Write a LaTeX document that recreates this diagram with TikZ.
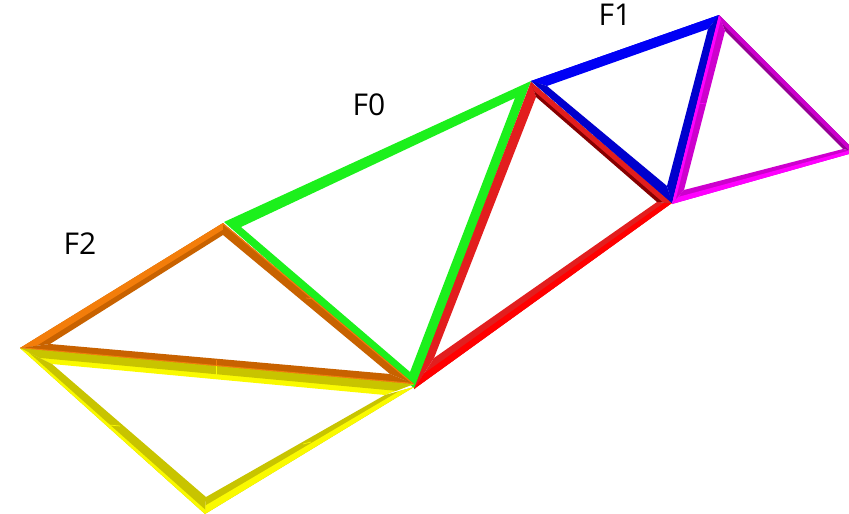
\documentclass[tikz,border=0pt]{standalone}
\usepackage{fontspec}
\setmainfont{Open Sans}
\usetikzlibrary{calc}
\definecolor{grn}{RGB}{28,240,28}
\definecolor{orA}{RGB}{243,125,10}
\definecolor{orB}{RGB}{200,98,0}
\definecolor{yeA}{RGB}{250,250,0}
\definecolor{yeB}{RGB}{200,196,0}
\definecolor{rdA}{RGB}{255,0,0}
\definecolor{rdB}{RGB}{226,30,30}
\definecolor{rdC}{RGB}{135,0,0}
\definecolor{blA}{RGB}{0,0,245}
\definecolor{blB}{RGB}{0,0,205}
\definecolor{mgA}{RGB}{255,0,255}
\definecolor{mgB}{RGB}{205,0,205}
\definecolor{mgC}{RGB}{150,0,150}
\tikzset{
  facelabel/.style={text=black,font=\fontsize{30}{30}\selectfont,inner sep=0pt},
  seam/.style={line width=0.7pt}
}
% band: outer colour, inner colour, split, outer P, outer Q, inner Q, inner P
\newcommand{\bandq}[7]{%
  \fill[#2] (#4) -- (#5) -- (#6) -- (#7) -- cycle;
  \fill[#1] (#4) -- (#5) -- ($(#5)!#3!(#6)$) -- ($(#4)!#3!(#7)$) -- cycle;
}
\begin{document}
\begin{tikzpicture}[x=1pt,y=-1pt]
\useasboundingbox (0,0) rectangle (849,514);
\clip (0,0) rectangle (849,514);
% green
\fill[grn,even odd rule] (224,222) -- (531,81) -- (415,389) -- cycle
  (241,227) -- (515,98) -- (410,372) -- cycle;
% yellow
\coordinate (Y1) at (20,348); \coordinate (Y2) at (414,387); \coordinate (Y3) at (205,514);
\coordinate (Yt) at (414,384);
\coordinate (y1) at (52,364); \coordinate (y2) at (385,395); \coordinate (y3) at (206,497);
\bandq{yeB}{yeA}{0.62}{Y1}{Yt}{y2}{y1}
\bandq{yeA}{yeB}{0.25}{Y1}{Y3}{y3}{y1}
\bandq{yeA}{yeB}{0.5}{Y3}{Y2}{y2}{y3}
\draw[yeA,seam] (216,366) -- (216,378);
\draw[yeA,seam] (109,425) -- (120,426);
\draw[yeA,seam] (303,444) -- (311,442);
% orange
\coordinate (O1) at (223,223); \coordinate (O2) at (20,348); \coordinate (O3) at (414,384);
\coordinate (o1) at (223,235); \coordinate (o2) at (50,344); \coordinate (o3) at (390,374);
\bandq{orA}{orB}{0.55}{O1}{O2}{o2}{o1}
\bandq{orA}{orB}{0.12}{O2}{O3}{o3}{o2}
\bandq{orA}{orB}{0.12}{O3}{O1}{o1}{o3}
\draw[orA,seam] (216,360) -- (216,366);
\draw[orA,seam] (306,298) -- (314,299);
% red
\coordinate (R1) at (531,82); \coordinate (R2) at (672,203); \coordinate (R3) at (414,389);
\coordinate (r1) at (536,97); \coordinate (r2) at (657,202); \coordinate (r3) at (434,358);
\bandq{rdB}{rdB}{0.5}{R1}{R3}{r3}{r1}
\bandq{rdA}{rdB}{0.5}{R3}{R2}{r2}{r3}
\bandq{rdB}{rdC}{0.6}{R2}{R1}{r1}{r2}
% blue
\coordinate (B1) at (531,81); \coordinate (B2) at (719,15); \coordinate (B3) at (672,203);
\coordinate (b1) at (547,86); \coordinate (b2) at (708,29); \coordinate (b3) at (667,186);
\bandq{blA}{blA}{0.5}{B1}{B2}{b2}{b1}
\bandq{blB}{blB}{0.5}{B2}{B3}{b3}{b2}
\bandq{blB}{blB}{0.5}{B3}{B1}{b1}{b3}
% magenta
\coordinate (M1) at (719,15); \coordinate (M2) at (856,152); \coordinate (M3) at (672,204);
\coordinate (m1) at (725,31); \coordinate (m2) at (843,149); \coordinate (m3) at (684,190);
\bandq{mgB}{mgC}{0.55}{M1}{M2}{m2}{m1}
\bandq{mgA}{mgB}{0.5}{M2}{M3}{m3}{m2}
\bandq{mgA}{mgB}{0.3}{M1}{M3}{m3}{m1}
\draw[mgA,seam] (699,103) -- (706,104);
% labels
\node[facelabel] (F0) at (369,105) {F0};
\node[facelabel] (F1) at (615,15) {F1};
\node[facelabel] (F2) at (80,244) {F2};
\end{tikzpicture}
\end{document}
